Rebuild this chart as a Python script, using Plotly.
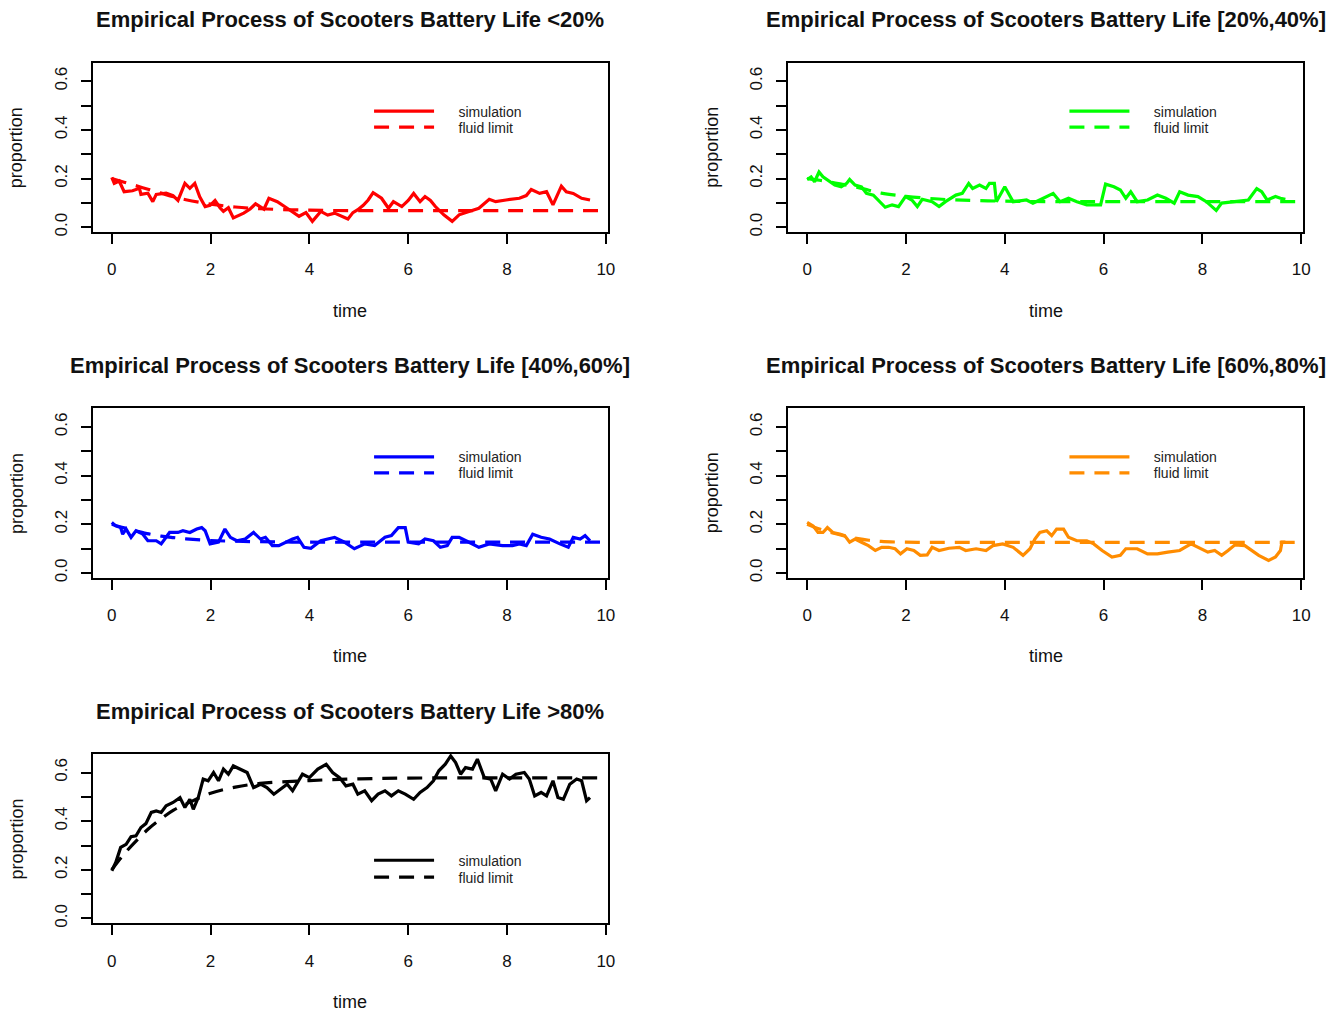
import plotly.graph_objects as go

W, H = 1343, 1017

titles = [
    "Empirical Process of Scooters Battery Life <20%",
    "Empirical Process of Scooters Battery Life [20%,40%]",
    "Empirical Process of Scooters Battery Life [40%,60%]",
    "Empirical Process of Scooters Battery Life [60%,80%]",
    "Empirical Process of Scooters Battery Life >80%",
]
colors = ["#FF0000", "#00FF00", "#0000FF", "#FF8C00", "#000000"]
series_names = ["simulation", "fluid limit"]

x_ticks = [0, 2, 4, 6, 8, 10]
y_ticks = [0.0, 0.1, 0.2, 0.3, 0.4, 0.5, 0.6]
y_ticktext = ["0.0", "", "0.2", "", "0.4", "", "0.6"]

# ---- simulation paths (time, proportion) ----
t_red = [0.00, 0.05, 0.15, 0.25, 0.42, 0.56, 0.59, 0.73, 0.83, 0.90, 1.10, 1.24, 1.34, 1.48, 1.58, 1.68,
         1.78, 1.89, 1.99, 2.09, 2.19, 2.26, 2.36, 2.46, 2.67, 2.80, 2.91, 3.08, 3.18, 3.35, 3.55, 3.69,
         3.79, 3.93, 4.06, 4.23, 4.37, 4.51, 4.64, 4.78, 4.88, 4.98, 5.09, 5.19, 5.29, 5.46, 5.60, 5.70,
         5.87, 6.00, 6.11, 6.24, 6.34, 6.45, 6.55, 6.72, 6.89, 7.03, 7.23, 7.43, 7.64, 7.77, 7.98, 8.25,
         8.39, 8.49, 8.66, 8.80, 8.93, 9.10, 9.20, 9.34, 9.51, 9.68]
v_red = [0.205, 0.180, 0.190, 0.146, 0.150, 0.160, 0.135, 0.140, 0.105, 0.135, 0.140, 0.130, 0.110, 0.180,
         0.160, 0.180, 0.125, 0.085, 0.090, 0.110, 0.080, 0.065, 0.080, 0.038, 0.058, 0.075, 0.096, 0.074,
         0.119, 0.105, 0.078, 0.060, 0.045, 0.060, 0.024, 0.065, 0.050, 0.058, 0.045, 0.034, 0.060, 0.072,
         0.090, 0.112, 0.142, 0.119, 0.078, 0.105, 0.085, 0.110, 0.139, 0.105, 0.126, 0.110, 0.085, 0.051,
         0.024, 0.051, 0.065, 0.078, 0.115, 0.105, 0.112, 0.119, 0.130, 0.155, 0.139, 0.146, 0.092, 0.169,
         0.146, 0.139, 0.119, 0.112]

t_green = [0.00, 0.08, 0.15, 0.24, 0.32, 0.42, 0.56, 0.69, 0.80, 0.86, 0.97, 1.10, 1.20, 1.34, 1.44, 1.58,
           1.72, 1.85, 1.99, 2.12, 2.23, 2.33, 2.53, 2.67, 2.80, 3.01, 3.14, 3.27, 3.35, 3.49, 3.62, 3.69,
           3.79, 3.83, 4.00, 4.17, 4.44, 4.57, 4.78, 4.98, 5.12, 5.29, 5.46, 5.66, 5.94, 6.04, 6.21, 6.34,
           6.45, 6.55, 6.68, 6.89, 7.09, 7.26, 7.43, 7.54, 7.71, 7.91, 8.08, 8.28, 8.39, 8.66, 8.93, 9.10,
           9.20, 9.31, 9.48, 9.58, 9.68]
v_green = [0.196, 0.207, 0.187, 0.227, 0.207, 0.193, 0.173, 0.166, 0.180, 0.196, 0.173, 0.166, 0.139, 0.132,
           0.112, 0.082, 0.092, 0.085, 0.126, 0.112, 0.085, 0.115, 0.105, 0.085, 0.105, 0.132, 0.139, 0.180,
           0.159, 0.173, 0.159, 0.180, 0.180, 0.105, 0.166, 0.105, 0.112, 0.099, 0.119, 0.139, 0.105, 0.119,
           0.105, 0.092, 0.092, 0.177, 0.166, 0.153, 0.119, 0.146, 0.105, 0.112, 0.132, 0.119, 0.099, 0.146,
           0.132, 0.126, 0.105, 0.069, 0.099, 0.105, 0.112, 0.159, 0.146, 0.112, 0.126, 0.119, 0.115]

t_blue = [0.00, 0.08, 0.18, 0.22, 0.29, 0.39, 0.49, 0.63, 0.73, 0.90, 1.00, 1.17, 1.34, 1.44, 1.58, 1.72,
          1.82, 1.89, 1.99, 2.16, 2.29, 2.40, 2.53, 2.70, 2.87, 3.01, 3.11, 3.25, 3.38, 3.52, 3.66, 3.76,
          3.89, 4.03, 4.23, 4.37, 4.51, 4.71, 4.91, 5.12, 5.32, 5.53, 5.66, 5.80, 5.94, 6.00, 6.21, 6.34,
          6.51, 6.65, 6.79, 6.89, 7.03, 7.23, 7.43, 7.64, 7.91, 8.11, 8.25, 8.39, 8.52, 8.69, 8.86, 9.07,
          9.24, 9.34, 9.48, 9.58, 9.68]
v_blue = [0.207, 0.193, 0.186, 0.159, 0.180, 0.146, 0.173, 0.159, 0.132, 0.132, 0.119, 0.166, 0.166, 0.173,
          0.166, 0.180, 0.186, 0.173, 0.119, 0.126, 0.180, 0.146, 0.132, 0.139, 0.166, 0.139, 0.146, 0.112,
          0.112, 0.126, 0.139, 0.146, 0.105, 0.101, 0.132, 0.139, 0.146, 0.126, 0.099, 0.119, 0.112, 0.146,
          0.153, 0.186, 0.186, 0.126, 0.119, 0.139, 0.132, 0.105, 0.112, 0.146, 0.146, 0.126, 0.105, 0.119,
          0.112, 0.112, 0.119, 0.112, 0.159, 0.146, 0.139, 0.119, 0.105, 0.146, 0.139, 0.153, 0.132]

t_orange = [0.00, 0.12, 0.22, 0.32, 0.41, 0.52, 0.66, 0.76, 0.86, 0.97, 1.10, 1.24, 1.38, 1.51, 1.65, 1.78,
            1.89, 2.02, 2.16, 2.29, 2.43, 2.53, 2.67, 2.87, 3.08, 3.21, 3.42, 3.62, 3.76, 3.96, 4.17, 4.37,
            4.51, 4.61, 4.71, 4.85, 4.95, 5.05, 5.19, 5.29, 5.46, 5.66, 5.80, 5.97, 6.17, 6.34, 6.45, 6.68,
            6.89, 7.09, 7.30, 7.54, 7.77, 7.91, 8.11, 8.25, 8.39, 8.52, 8.66, 8.86, 9.00, 9.14, 9.34, 9.48,
            9.58, 9.61, 9.68]
v_orange = [0.207, 0.193, 0.166, 0.166, 0.186, 0.166, 0.159, 0.153, 0.126, 0.139, 0.126, 0.112, 0.092, 0.105,
            0.105, 0.099, 0.078, 0.099, 0.092, 0.072, 0.074, 0.105, 0.092, 0.101, 0.105, 0.092, 0.099, 0.092,
            0.112, 0.119, 0.105, 0.072, 0.099, 0.139, 0.166, 0.173, 0.153, 0.180, 0.180, 0.146, 0.132, 0.132,
            0.119, 0.092, 0.065, 0.072, 0.099, 0.099, 0.078, 0.078, 0.085, 0.092, 0.119, 0.105, 0.085, 0.092,
            0.072, 0.092, 0.115, 0.112, 0.092, 0.072, 0.051, 0.065, 0.092, 0.126, 0.126]

t_black = [0.00, 0.08, 0.18, 0.29, 0.39, 0.49, 0.59, 0.69, 0.80, 0.90, 1.00, 1.10, 1.24, 1.38, 1.48, 1.58,
           1.65, 1.75, 1.85, 1.95, 2.06, 2.16, 2.26, 2.36, 2.46, 2.60, 2.74, 2.87, 3.01, 3.14, 3.28, 3.42,
           3.55, 3.66, 3.76, 3.86, 4.00, 4.17, 4.34, 4.47, 4.61, 4.74, 4.88, 4.98, 5.12, 5.26, 5.39, 5.53,
           5.66, 5.80, 5.94, 6.11, 6.24, 6.38, 6.51, 6.62, 6.75, 6.86, 6.96, 7.06, 7.16, 7.30, 7.40, 7.54,
           7.67, 7.77, 7.91, 8.05, 8.18, 8.35, 8.45, 8.56, 8.69, 8.80, 8.93, 9.03, 9.14, 9.27, 9.41, 9.51,
           9.61, 9.68]
v_black = [0.196, 0.230, 0.292, 0.305, 0.336, 0.340, 0.374, 0.390, 0.436, 0.442, 0.436, 0.463, 0.477, 0.497,
           0.456, 0.490, 0.449, 0.497, 0.573, 0.566, 0.600, 0.566, 0.614, 0.593, 0.627, 0.614, 0.600, 0.538,
           0.552, 0.538, 0.511, 0.532, 0.552, 0.525, 0.559, 0.593, 0.579, 0.614, 0.634, 0.600, 0.579, 0.545,
           0.552, 0.511, 0.525, 0.484, 0.511, 0.525, 0.504, 0.525, 0.511, 0.490, 0.518, 0.538, 0.566, 0.607,
           0.634, 0.668, 0.641, 0.593, 0.620, 0.614, 0.655, 0.579, 0.573, 0.525, 0.593, 0.573, 0.593, 0.600,
           0.573, 0.504, 0.518, 0.504, 0.566, 0.497, 0.490, 0.552, 0.573, 0.566, 0.484, 0.497]

# ---- fluid limits ----
t_fluid = [0, 0.25, 0.5, 0.75, 1, 1.25, 1.5, 2, 2.5, 3, 4, 5, 6, 8, 10]
f_red = [0.200, 0.185, 0.170, 0.155, 0.140, 0.125, 0.113, 0.095, 0.083, 0.076, 0.070, 0.068, 0.068, 0.068, 0.068]
f_green = [0.200, 0.193, 0.185, 0.175, 0.165, 0.152, 0.140, 0.127, 0.118, 0.112, 0.107, 0.105, 0.105, 0.105, 0.105]
f_blue = [0.200, 0.185, 0.172, 0.160, 0.151, 0.145, 0.140, 0.133, 0.130, 0.128, 0.126, 0.126, 0.126, 0.126, 0.126]
f_orange = [0.200, 0.180, 0.165, 0.152, 0.142, 0.134, 0.129, 0.126, 0.125, 0.125, 0.125, 0.125, 0.125, 0.125, 0.125]
f_black = [0.200, 0.265, 0.320, 0.370, 0.410, 0.445, 0.470, 0.515, 0.540, 0.555, 0.567, 0.574, 0.577, 0.578, 0.578]

sims = [(t_red, v_red), (t_green, v_green), (t_blue, v_blue), (t_orange, v_orange), (t_black, v_black)]
fluids = [f_red, f_green, f_blue, f_orange, f_black]

# ---- layout geometry (pixels) ----
col_x = [(93, 611), (792, 1310)]
row_y = [(63, 233), (410, 580), (757, 927)]
panel_pos = [(0, 0), (0, 1), (1, 0), (1, 1), (2, 0)]
legend_row_px = [(111, 127), (111, 127), (458, 474), (458, 474), (863, 880)]  # centre of legend rows

FONT = "Liberation Sans, Arial, Helvetica, sans-serif"
TXT = "#111111"
GAP = "\u00a0" * 5

fig = go.Figure()
layout = dict(
    width=W, height=H,
    margin=dict(l=0, r=0, t=0, b=0),
    paper_bgcolor="white", plot_bgcolor="white",
    font=dict(family=FONT, color=TXT),
    showlegend=True,
    annotations=[],
)

leg_idx = 0
for i in range(5):
    r, c = panel_pos[i]
    x0, x1 = col_x[c]
    y0, y1 = row_y[r]
    sfx = "" if i == 0 else str(i + 1)
    ts, vs = sims[i]
    legs = []
    for k in range(2):
        leg_idx += 1
        legs.append("legend" if leg_idx == 1 else "legend" + str(leg_idx))
    fig.add_trace(go.Scatter(
        x=ts, y=vs, mode="lines", name=GAP + series_names[0],
        line=dict(color=colors[i], width=3.2),
        xaxis="x" + sfx, yaxis="y" + sfx, legend=legs[0], showlegend=True,
    ))
    fig.add_trace(go.Scatter(
        x=t_fluid, y=fluids[i], mode="lines", name=GAP + series_names[1],
        line=dict(color=colors[i], width=3.2, dash="15px,10px", shape="spline"),
        xaxis="x" + sfx, yaxis="y" + sfx, legend=legs[1], showlegend=True,
    ))
    layout["xaxis" + sfx] = dict(
        domain=[x0 / W, x1 / W], anchor="y" + sfx,
        range=[-0.39, 10.04], tickvals=x_ticks,
        showline=True, mirror=True, linecolor="black", linewidth=1.6,
        ticks="outside", ticklen=10, tickwidth=1.5, tickcolor="black",
        tickfont=dict(size=17, family=FONT, color=TXT),
        ticklabelstandoff=11,
        showgrid=False, zeroline=False,
    )
    layout["yaxis" + sfx] = dict(
        domain=[1 - y1 / H, 1 - y0 / H], anchor="x" + sfx,
        range=[-0.02, 0.676], tickvals=y_ticks, ticktext=y_ticktext,
        tickangle=-90,
        showline=True, mirror=True, linecolor="black", linewidth=1.6,
        ticks="outside", ticklen=10, tickwidth=1.5, tickcolor="black",
        tickfont=dict(size=17, family=FONT, color=TXT),
        ticklabelstandoff=7,
        showgrid=False, zeroline=False,
    )
    for k in range(2):
        layout[legs[k]] = dict(
            x=(371 + (x0 - 93)) / W, y=1 - (legend_row_px[i][k] - 15) / H,
            xanchor="left", yanchor="top",
            bgcolor="rgba(0,0,0,0)", borderwidth=0,
            font=dict(size=14, family=FONT, color="#222222"),
            itemwidth=60, visible=True,
        )
    cx = (x0 + x1) / 2
    layout["annotations"] += [
        dict(text="<b>" + titles[i].replace("<", "&lt;").replace(">", "&gt;") + "</b>",
             x=cx / W, y=1 - (y0 - 43) / H, xref="paper", yref="paper",
             showarrow=False, xanchor="center", yanchor="middle",
             font=dict(size=22, family=FONT, color=TXT)),
        dict(text="time", x=cx / W, y=1 - (y1 + 79) / H, xref="paper", yref="paper",
             showarrow=False, xanchor="center", yanchor="middle",
             font=dict(size=18, family=FONT, color=TXT)),
        dict(text="proportion", x=(x0 - 76) / W, y=1 - ((y0 + y1) / 2) / H,
             xref="paper", yref="paper", textangle=-90,
             showarrow=False, xanchor="center", yanchor="middle",
             font=dict(size=18, family=FONT, color=TXT)),
    ]

fig.update_layout(**layout)
fig.write_html("out.html")
